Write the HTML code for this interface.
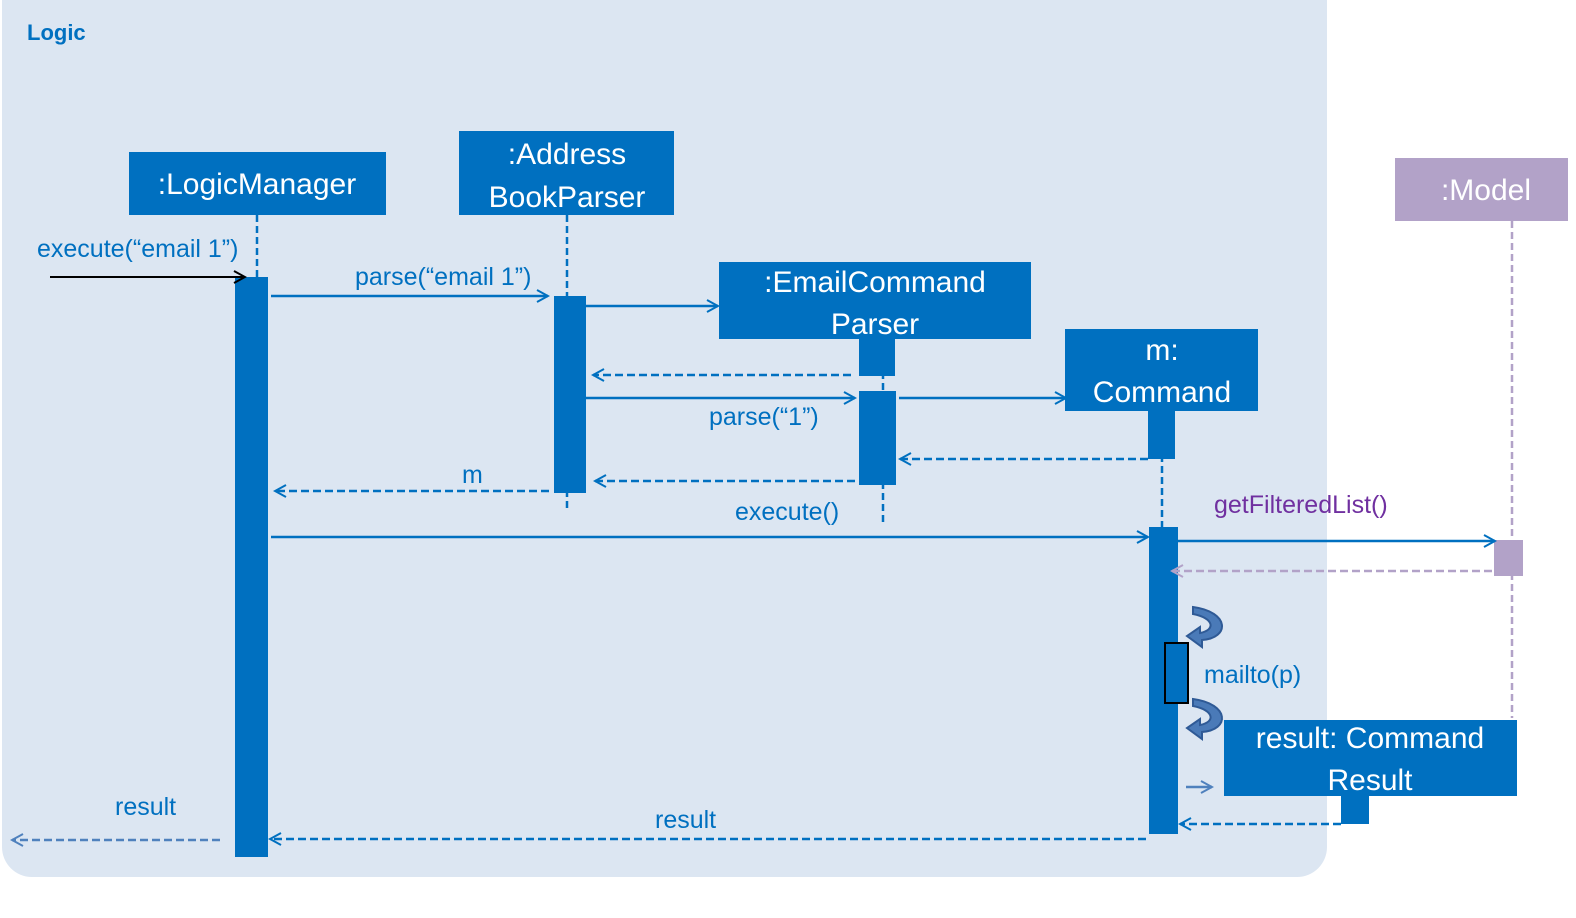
<!DOCTYPE html>
<html><head><meta charset="utf-8"><style>html,body{margin:0;background:#fff;overflow:hidden;width:1576px;height:918px}svg{display:block}text{font-family:"Liberation Sans",sans-serif}</style></head><body>
<svg width="1576" height="918" viewBox="0 0 1576 918" xmlns="http://www.w3.org/2000/svg">
<defs>
<marker id="a" markerWidth="14" markerHeight="14" refX="12" refY="7" orient="auto" markerUnits="userSpaceOnUse"><path d="M1,1 L12,7 L1,13" fill="none" stroke="#0070c0" stroke-width="2"/></marker>
<marker id="k" markerWidth="14" markerHeight="14" refX="12" refY="7" orient="auto" markerUnits="userSpaceOnUse"><path d="M1,1 L12,7 L1,13" fill="none" stroke="#000" stroke-width="2"/></marker>
<marker id="p" markerWidth="14" markerHeight="14" refX="12" refY="7" orient="auto" markerUnits="userSpaceOnUse"><path d="M1,1 L12,7 L1,13" fill="none" stroke="#b2a2c8" stroke-width="2"/></marker>
<marker id="g" markerWidth="14" markerHeight="14" refX="12" refY="7" orient="auto" markerUnits="userSpaceOnUse"><path d="M1,1 L12,7 L1,13" fill="none" stroke="#4f81bd" stroke-width="2"/></marker>
</defs>
<rect x="2" y="-30" width="1325" height="907" rx="30" fill="#dce6f2"/>
<text x="27" y="40" font-size="22" font-weight="bold" fill="#0070c0">Logic</text>
<g stroke="#0070c0" stroke-width="2.5" stroke-dasharray="7,4" fill="none">
<line x1="257" y1="215" x2="257" y2="277"/><line x1="567" y1="215" x2="567" y2="512"/>
<line x1="883" y1="339" x2="883" y2="525"/><line x1="1162" y1="411" x2="1162" y2="527"/>
</g>
<line x1="1512" y1="221" x2="1512" y2="718" stroke="#b2a2c8" stroke-width="2.5" stroke-dasharray="7,4"/>
<g fill="#0070c0">
<rect x="129" y="152" width="257" height="63"/><rect x="459" y="131" width="215" height="84"/>
<rect x="719" y="262" width="312" height="77"/><rect x="1065" y="329" width="193" height="82"/>
<rect x="1224" y="720" width="293" height="76"/>
<rect x="235" y="277" width="33" height="580"/><rect x="554" y="296" width="32" height="197"/>
<rect x="859" y="339" width="36" height="37"/><rect x="859" y="391" width="37" height="94"/>
<rect x="1148" y="411" width="27" height="48"/><rect x="1149" y="527" width="29" height="307"/>
<rect x="1341" y="796" width="28" height="28"/>
</g>
<rect x="1395" y="158" width="173" height="63" fill="#b2a2c8"/>
<rect x="1494" y="540" width="29" height="36" fill="#b2a2c8"/>
<rect x="1165" y="643" width="23" height="60" fill="#0070c0" stroke="#000" stroke-width="2"/>
<g fill="#fff" font-size="30" text-anchor="middle">
<text x="257" y="194">:LogicManager</text>
<text x="567" y="164">:Address</text><text x="567" y="207">BookParser</text>
<text x="875" y="292">:EmailCommand</text><text x="875" y="334">Parser</text>
<text x="1162" y="360">m:</text><text x="1162" y="402">Command</text>
<text x="1370" y="748">result: Command</text><text x="1370" y="790">Result</text>
</g>
<text x="1486" y="200" fill="#fff" font-size="30" text-anchor="middle">:Model</text>
<g stroke="#0070c0" stroke-width="2.5" fill="none" marker-end="url(#a)">
<line x1="271" y1="296" x2="548" y2="296"/><line x1="586" y1="306" x2="718" y2="306"/>
<line x1="586" y1="398" x2="855" y2="398"/><line x1="899" y1="398" x2="1066" y2="398"/>
<line x1="271" y1="537" x2="1148" y2="537"/><line x1="1178" y1="541" x2="1495" y2="541"/>
</g>
<g stroke="#0070c0" stroke-width="2.5" fill="none" stroke-dasharray="8,4" marker-end="url(#a)">
<line x1="851" y1="375" x2="593" y2="375"/><line x1="1148" y1="459" x2="900" y2="459"/>
<line x1="855" y1="481" x2="595" y2="481"/><line x1="549" y1="491" x2="275" y2="491"/>
<line x1="1341" y1="824" x2="1180" y2="824"/><line x1="1146" y1="839" x2="270" y2="839"/>
</g>
<line x1="220" y1="840" x2="12" y2="840" stroke="#4f81bd" stroke-width="2.5" stroke-dasharray="8,4" marker-end="url(#g)"/>
<line x1="1186" y1="787" x2="1212" y2="787" stroke="#4f81bd" stroke-width="2.5" marker-end="url(#g)"/>
<line x1="1492" y1="571" x2="1172" y2="571" stroke="#b2a2c8" stroke-width="2.5" stroke-dasharray="8,4" marker-end="url(#p)"/>
<line x1="50" y1="277" x2="245" y2="277" stroke="#000" stroke-width="2" marker-end="url(#k)"/>
<g stroke="#2f5a96" stroke-width="2" fill="#4a7ab8">
<path d="M1193,607 C1230,612 1230,638 1202,640 L1202,647 L1187,636 L1200,627 L1200,633 C1216,630 1214,618 1193,614 Z"/>
<path d="M1193,699 C1230,704 1230,730 1202,732 L1202,739 L1187,728 L1200,719 L1200,725 C1216,722 1214,710 1193,706 Z"/>
</g>
<g fill="#0070c0" font-size="25">
<text x="37" y="257">execute(“email 1”)</text>
<text x="355" y="285">parse(“email 1”)</text>
<text x="709" y="425">parse(“1”)</text>
<text x="462" y="483">m</text>
<text x="735" y="520">execute()</text>
<text x="1204" y="683">mailto(p)</text>
<text x="655" y="828">result</text>
<text x="115" y="815">result</text>
</g>
<text x="1214" y="513" fill="#7030a0" font-size="25">getFilteredList()</text>
</svg>
</body></html>
